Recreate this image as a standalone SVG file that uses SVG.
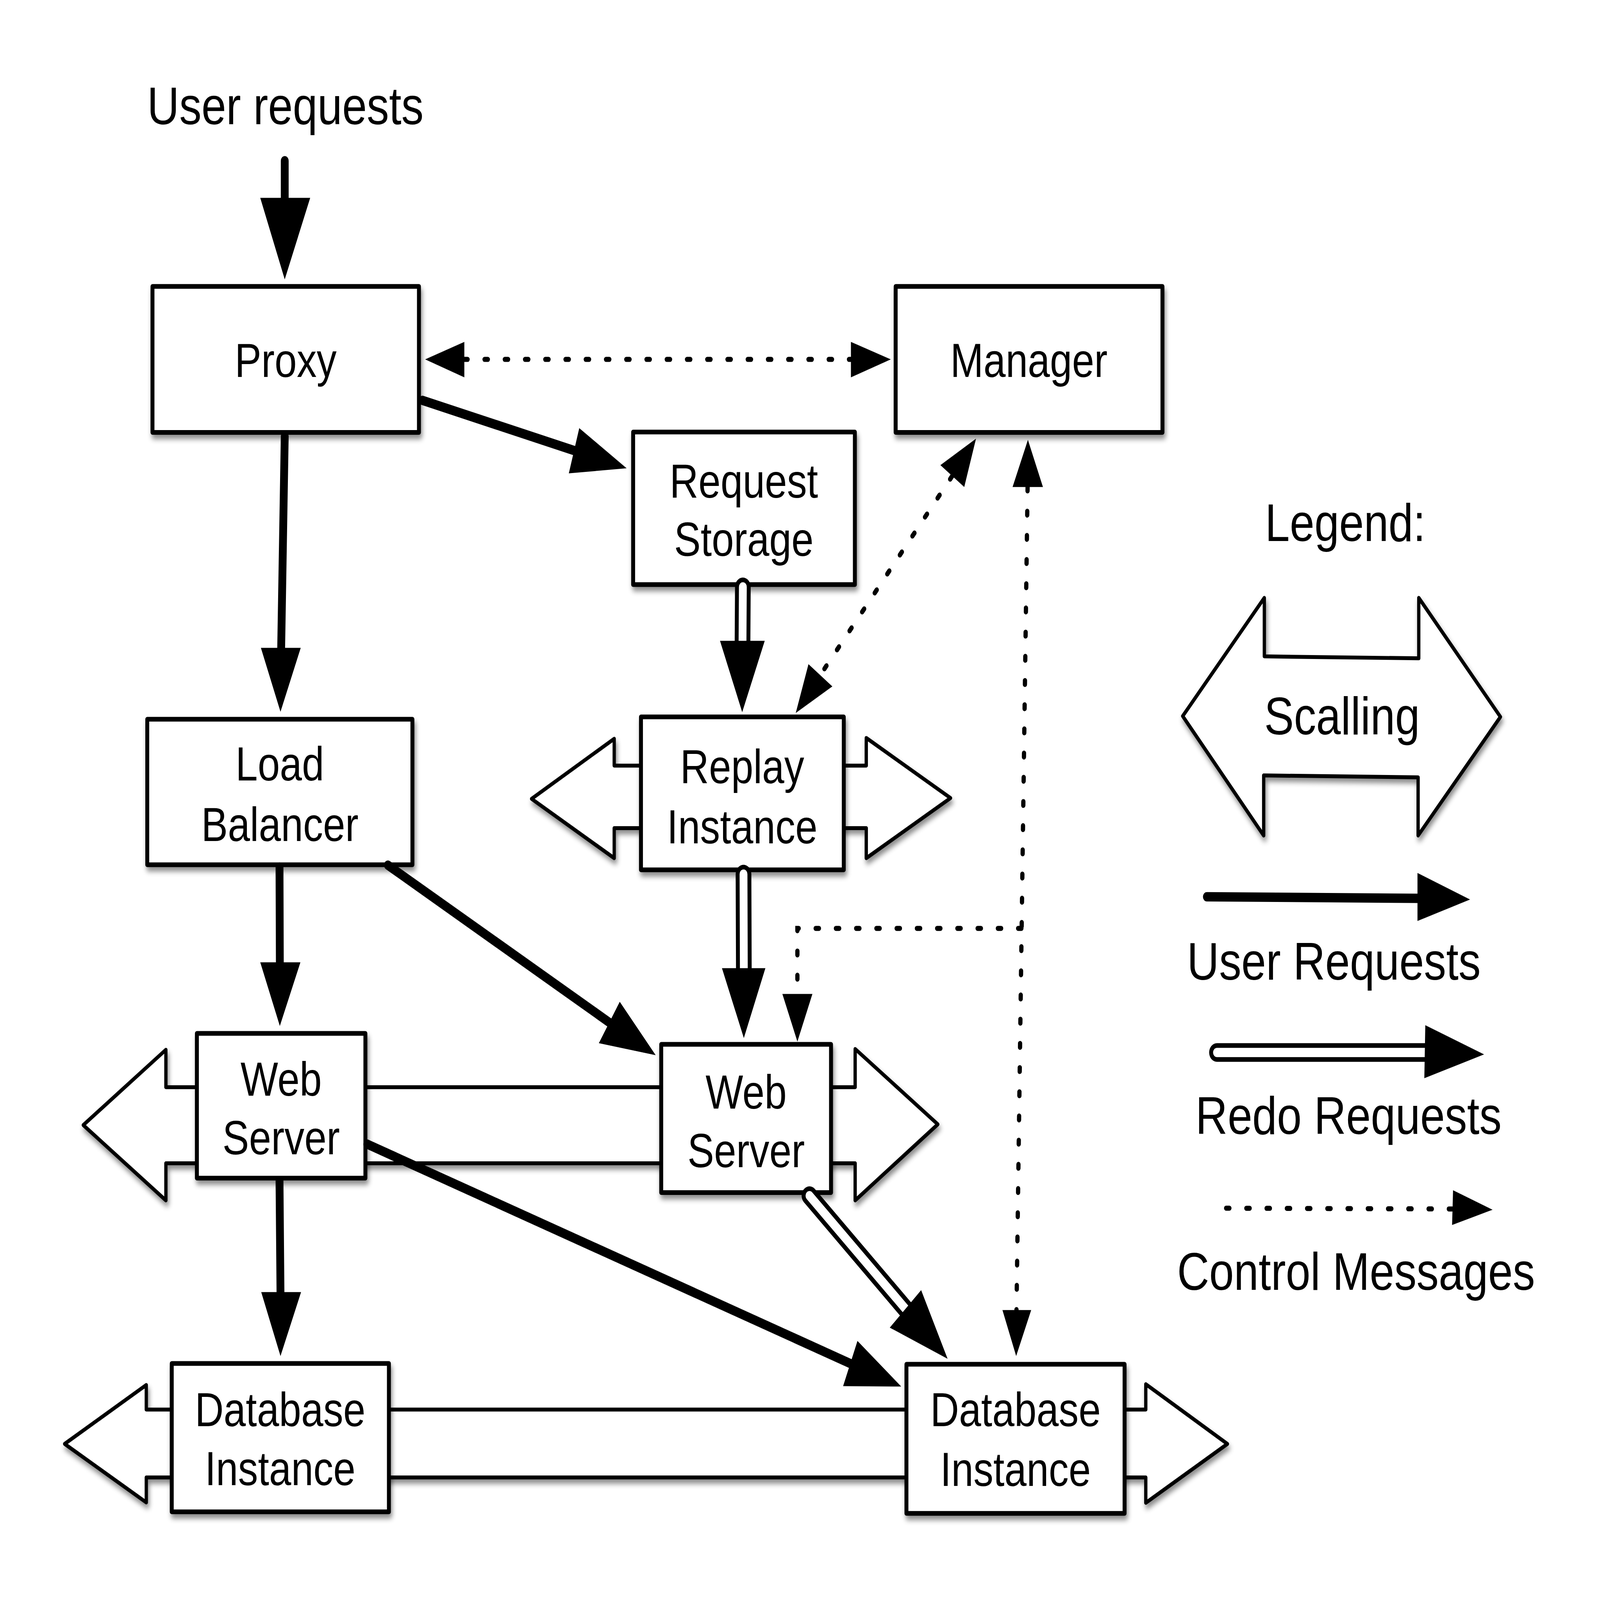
<svg xmlns="http://www.w3.org/2000/svg" width="4900" height="4100" viewBox="0 0 4900 4100" preserveAspectRatio="none">
<defs>
<filter id="sh" x="-10%" y="-10%" width="130%" height="130%">
<feDropShadow dx="4" dy="11" stdDeviation="7" flood-color="#000" flood-opacity="0.45"/>
</filter>
<style>
svg{width:100vw;height:100vh}
.box{fill:#fff;stroke:#000;stroke-width:12;stroke-linejoin:round}
.scale{fill:#fff;stroke:#000;stroke-width:10;stroke-linejoin:round}
.user{stroke:#000;stroke-width:24;fill:none;stroke-linecap:round}
.redo-o{stroke:#000;stroke-width:48;fill:none;stroke-linecap:round}
.redo-i{stroke:#fff;stroke-width:24;fill:none;stroke-linecap:round}
.ctrl{stroke:#000;stroke-width:13;fill:none;stroke-linecap:round;stroke-dasharray:10 52}
.head{fill:#000}
text{font-family:"Liberation Sans",Arial,Helvetica,sans-serif;text-anchor:middle;fill:#000}
.lbl{font-size:122px}
.big{font-size:136px}
</style>
</defs>
<rect width="4900" height="4100" fill="#fff"/>

<g id="title"><text class="big" x="874" y="318">User requests</text></g>

<g id="scaling-shapes" filter="url(#sh)">
<polygon class="scale" points="1628,2047 1881,1893 1881,1962 2653,1962 2653,1891 2911,2045 2653,2199 2653,2122 1881,2122 1881,2199"/>
<polygon class="scale" points="255,2883 508,2690 508,2786 2619,2786 2619,2688 2872,2881 2619,3076 2619,2981 508,2981 508,3076"/>
<polygon class="scale" points="198,3700 448,3549 448,3612 3509,3612 3509,3547 3759,3700 3509,3851 3509,3786 448,3786 448,3850"/>
</g>

<g id="node-proxy"><rect class="box" filter="url(#sh)" x="467" y="734" width="816" height="374"/><text class="lbl" x="875" y="966">Proxy</text></g>
<g id="node-manager"><rect class="box" filter="url(#sh)" x="2743" y="734" width="817" height="374"/><text class="lbl" x="3151" y="966">Manager</text></g>
<g id="node-request-storage"><rect class="box" filter="url(#sh)" x="1939" y="1107" width="679" height="391"/><text class="lbl" x="2278" y="1275">Request</text><text class="lbl" x="2278" y="1424">Storage</text></g>
<g id="node-replay"><rect class="box" filter="url(#sh)" x="1963" y="1837" width="621" height="392"/><text class="lbl" x="2273" y="2007">Replay</text><text class="lbl" x="2273" y="2161">Instance</text></g>
<g id="node-load-balancer"><rect class="box" filter="url(#sh)" x="451" y="1843" width="812" height="373"/><text class="lbl" x="857" y="2000">Load</text><text class="lbl" x="857" y="2155">Balancer</text></g>
<g id="node-web1"><rect class="box" filter="url(#sh)" x="603" y="2648" width="516" height="371"/><text class="lbl" x="861" y="2808">Web</text><text class="lbl" x="861" y="2958">Server</text></g>
<g id="node-web2"><rect class="box" filter="url(#sh)" x="2025" y="2676" width="520" height="380"/><text class="lbl" x="2285" y="2841">Web</text><text class="lbl" x="2285" y="2991">Server</text></g>
<g id="node-db1"><rect class="box" filter="url(#sh)" x="526" y="3494" width="665" height="380"/><text class="lbl" x="858" y="3655">Database</text><text class="lbl" x="858" y="3806">Instance</text></g>
<g id="node-db2"><rect class="box" filter="url(#sh)" x="2776" y="3496" width="668" height="382"/><text class="lbl" x="3110" y="3655">Database</text><text class="lbl" x="3110" y="3808">Instance</text></g>

<g id="connectors">
<path class="user" d="M872 412 L872 510"/><polygon class="head" points="872,716 797,507 950,507"/>
<path class="user" d="M1294 1026 L1760 1155"/><polygon class="head" points="1919,1200 1774,1097 1742,1213"/>
<path class="user" d="M872 1118 L861 1665"/><polygon class="head" points="859,1824 799,1660 921,1660"/>
<path class="user" d="M856 2222 L857 2470"/><polygon class="head" points="857,2629 797,2466 920,2466"/>
<path class="user" d="M1188 2217 L1866 2620"/><polygon class="head" points="2008,2704 1898,2567 1834,2673"/>
<path class="user" d="M856 3025 L859 3315"/><polygon class="head" points="859,3475 800,3311 922,3311"/>
<path class="user" d="M1125 2932 L2604 3494"/><polygon class="head" points="2760,3553 2626,3436 2582,3552"/>
<path class="redo-o" d="M2275 1504 L2274 1642"/><path class="redo-i" d="M2275 1504 L2274 1642"/><polygon class="head" points="2273,1825 2205,1642 2342,1642"/>
<path class="redo-o" d="M2277 2240 L2278 2481"/><path class="redo-i" d="M2277 2240 L2278 2481"/><polygon class="head" points="2278,2660 2211,2481 2344,2481"/>
<path class="redo-o" d="M2479 3064 L2773 3354"/><path class="redo-i" d="M2479 3064 L2773 3354"/><polygon class="head" points="2902,3482 2821,3306 2725,3402"/>
<path class="ctrl" d="M1422 921 L2606 921"/><polygon class="head" points="1302,921 1422,876 1422,967"/><polygon class="head" points="2728,921 2606,876 2606,967"/>
<path class="ctrl" d="M2916 1220 L2512 1730"/><polygon class="head" points="2989,1124 2880,1192 2953,1248"/><polygon class="head" points="2437,1827 2476,1702 2549,1759"/>
<path class="ctrl" d="M3147 1248 L3113 3357"/><polygon class="head" points="3148,1127 3101,1248 3194,1248"/><polygon class="head" points="3112,3475 3070,3357 3158,3357"/>
<path class="ctrl" d="M3128 2379 L2442 2379 L2442 2547"/><polygon class="head" points="2442,2669 2396,2547 2488,2547"/>
</g>

<g id="legend">
<text class="big" x="4120" y="1386">Legend:</text>
<g id="legend-scaling" filter="url(#sh)">
<polygon class="scale" points="3622,1835 3872,1532 3872,1682 4345,1687 4345,1532 4595,1837 4343,2141 4343,1992 3870,1987 3870,2141"/>
<text class="big" x="4110" y="1882">Scalling</text>
</g>
<g id="legend-user">
<path class="user" d="M3696 2298 L4345 2302"/><polygon class="head" points="4502,2305 4341,2237 4341,2360"/>
<text class="big" x="4085" y="2510">User Requests</text>
</g>
<g id="legend-redo">
<path class="redo-o" d="M3727 2697 L4365 2697"/><path class="redo-i" d="M3727 2697 L4365 2697"/><polygon class="head" points="4545,2702 4365,2627 4362,2763"/>
<text class="big" x="4130" y="2906">Redo Requests</text>
</g>
<g id="legend-control">
<path class="ctrl" d="M3755 3096 L4450 3098"/><polygon class="head" points="4571,3100 4450,3050 4447,3139"/>
<text class="big" x="4153" y="3305">Control Messages</text>
</g>
</g>
</svg>
